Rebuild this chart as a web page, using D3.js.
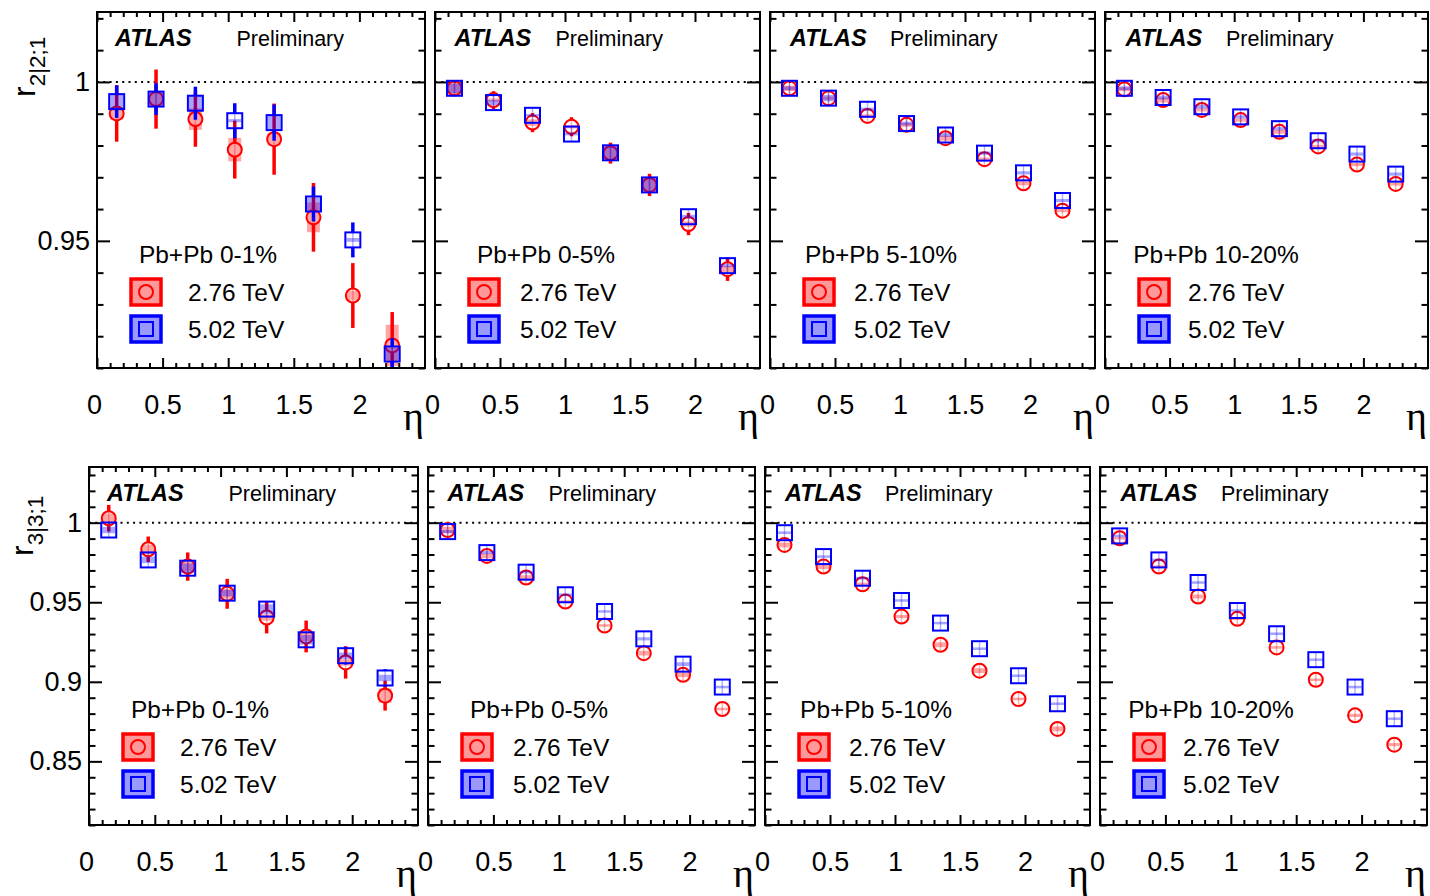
<!DOCTYPE html>
<html>
<head>
<meta charset="utf-8">
<script src="https://cdn.jsdelivr.net/npm/d3@7"></script>
<style>
  body { margin: 0; background: #fff; }
  svg { display: block; }
</style>
</head>
<body>
<svg id="chart" width="1430" height="896"></svg>
<script>
// ---- data -----------------------------------------------------------------
const etaBins = [0.15, 0.45, 0.75, 1.05, 1.35, 1.65, 1.95, 2.25];
const centralities = ["Pb+Pb 0-1%", "Pb+Pb 0-5%", "Pb+Pb 5-10%", "Pb+Pb 10-20%"];
const energies = ["2.76 TeV", "5.02 TeV"];
const xTickLabels = [0, 0.5, 1, 1.5, 2];
const r22TickLabels = [0.95, 1];
const r33TickLabels = [0.85, 0.9, 0.95, 1];

// r2|2;1, one row per centrality class
const r22_276 = [
  [0.9901, 0.9946, 0.9883, 0.9787, 0.9820, 0.9574, 0.9328, 0.9171],
  [0.9980, 0.9943, 0.9872, 0.9859, 0.9776, 0.9676, 0.9553, 0.9411],
  [0.9980, 0.9949, 0.9893, 0.9865, 0.9823, 0.9757, 0.9681, 0.9595],
  [0.9977, 0.9943, 0.9912, 0.9880, 0.9843, 0.9797, 0.9740, 0.9679]
];
const r22_276_stat = [
  [0.0089, 0.0093, 0.0087, 0.0091, 0.0112, 0.0108, 0.0102, 0.0105],
  [0.0025, 0.0028, 0.0030, 0.0030, 0.0033, 0.0035, 0.0035, 0.0037],
  [0.0018, 0.0018, 0.0019, 0.0019, 0.0020, 0.0021, 0.0021, 0.0022],
  [0.0015, 0.0015, 0.0016, 0.0016, 0.0017, 0.0017, 0.0018, 0.0019]
];
const r22_276_sys = [
  [0.0020, 0.0020, 0.0034, 0.0037, 0.0020, 0.0047, 0.0015, 0.0065],
  [0.0022, 0.0005, 0.0010, 0.0005, 0.0022, 0.0022, 0.0008, 0.0010],
  [0.0008, 0.0005, 0.0005, 0.0006, 0.0008, 0.0005, 0.0006, 0.0005],
  [0.0006, 0.0008, 0.0005, 0.0005, 0.0006, 0.0005, 0.0005, 0.0005]
];
const r22_502 = [
  [0.9938, 0.9946, 0.9933, 0.9878, 0.9872, 0.9616, 0.9503, 0.9144],
  [0.9980, 0.9935, 0.9895, 0.9836, 0.9777, 0.9676, 0.9576, 0.9422],
  [0.9980, 0.9949, 0.9914, 0.9869, 0.9833, 0.9776, 0.9714, 0.9627],
  [0.9980, 0.9951, 0.9922, 0.9890, 0.9853, 0.9815, 0.9773, 0.9710]
];
const r22_502_stat = [
  [0.0051, 0.0050, 0.0052, 0.0055, 0.0057, 0.0055, 0.0055, 0.0050],
  [0.0012, 0.0012, 0.0012, 0.0012, 0.0013, 0.0013, 0.0014, 0.0014],
  [0.0010, 0.0010, 0.0010, 0.0010, 0.0011, 0.0011, 0.0012, 0.0012],
  [0.0010, 0.0010, 0.0010, 0.0010, 0.0010, 0.0011, 0.0011, 0.0012]
];
const r22_502_sys = [
  [0.0023, 0.0023, 0.0023, 0.0005, 0.0022, 0.0020, 0.0006, 0.0020],
  [0.0015, 0.0008, 0.0004, 0.0004, 0.0020, 0.0020, 0.0006, 0.0005],
  [0.0006, 0.0010, 0.0005, 0.0006, 0.0006, 0.0005, 0.0005, 0.0005],
  [0.0006, 0.0006, 0.0006, 0.0005, 0.0005, 0.0005, 0.0005, 0.0005]
];

// r3|3;1, one row per centrality class
const r33_276 = [
  [1.0028, 0.9833, 0.9724, 0.9553, 0.9404, 0.9285, 0.9122, 0.8913],
  [0.9954, 0.9791, 0.9655, 0.9504, 0.9354, 0.9180, 0.9044, 0.8829],
  [0.9860, 0.9724, 0.9613, 0.9410, 0.9233, 0.9070, 0.8892, 0.8704],
  [0.9902, 0.9724, 0.9536, 0.9396, 0.9216, 0.9013, 0.8789, 0.8605]
];
const r33_276_stat = [
  [0.0084, 0.0080, 0.0089, 0.0094, 0.0100, 0.0100, 0.0102, 0.0094],
  [0.0035, 0.0035, 0.0035, 0.0035, 0.0036, 0.0036, 0.0038, 0.0040],
  [0.0030, 0.0030, 0.0030, 0.0031, 0.0032, 0.0033, 0.0034, 0.0035],
  [0.0025, 0.0025, 0.0026, 0.0027, 0.0028, 0.0029, 0.0030, 0.0031]
];
const r33_276_sys = [
  [0.0030, 0.0030, 0.0030, 0.0030, 0.0020, 0.0030, 0.0020, 0.0045],
  [0.0020, 0.0015, 0.0015, 0.0008, 0.0008, 0.0015, 0.0015, 0.0008],
  [0.0015, 0.0015, 0.0010, 0.0010, 0.0015, 0.0015, 0.0008, 0.0015],
  [0.0008, 0.0008, 0.0012, 0.0008, 0.0008, 0.0008, 0.0010, 0.0010]
];
const r33_502 = [
  [0.9954, 0.9766, 0.9714, 0.9557, 0.9457, 0.9264, 0.9164, 0.9024],
  [0.9944, 0.9812, 0.9689, 0.9547, 0.9442, 0.9270, 0.9111, 0.8967],
  [0.9937, 0.9787, 0.9651, 0.9511, 0.9369, 0.9208, 0.9038, 0.8862],
  [0.9917, 0.9766, 0.9624, 0.9448, 0.9302, 0.9139, 0.8967, 0.8768]
];
const r33_502_stat = [
  [0.0040, 0.0040, 0.0042, 0.0045, 0.0048, 0.0050, 0.0055, 0.0055],
  [0.0030, 0.0030, 0.0030, 0.0030, 0.0031, 0.0031, 0.0032, 0.0032],
  [0.0028, 0.0028, 0.0028, 0.0028, 0.0029, 0.0029, 0.0030, 0.0030],
  [0.0025, 0.0025, 0.0025, 0.0026, 0.0026, 0.0027, 0.0027, 0.0028]
];
const r33_502_sys = [
  [0.0020, 0.0020, 0.0030, 0.0020, 0.0030, 0.0030, 0.0020, 0.0020],
  [0.0010, 0.0010, 0.0008, 0.0008, 0.0008, 0.0010, 0.0012, 0.0008],
  [0.0008, 0.0008, 0.0008, 0.0008, 0.0008, 0.0008, 0.0008, 0.0008],
  [0.0008, 0.0008, 0.0008, 0.0008, 0.0008, 0.0008, 0.0008, 0.0008]
];

// ---- style ----------------------------------------------------------------
const SANS = '"Liberation Sans", Arial, Helvetica, sans-serif';
const SERIF = '"Liberation Serif", "Times New Roman", serif';
const RED = "#ff0000", BLUE = "#0000ff";
const RED_FILL = "rgba(255,0,0,0.40)", BLUE_FILL = "rgba(0,0,255,0.40)";
const RED_SYS = "rgba(255,0,0,0.35)", BLUE_SYS = "rgba(0,0,255,0.35)";
const RED_LIGHT = "rgba(255,0,0,0.30)", BLUE_LIGHT = "rgba(0,0,255,0.30)";

const rows = [
  {
    top: 12, bottom: 368,
    lefts: [97, 435, 770, 1105], rights: [425, 760, 1095, 1428],
    yDomain: [0.91, 1.022], yLabels: r22TickLabels,
    title: ["r", "2|2;1"], titleAt: [35, 97],
    low: { v: r22_276, stat: r22_276_stat, sys: r22_276_sys },
    high: { v: r22_502, stat: r22_502_stat, sys: r22_502_sys }
  },
  {
    top: 467, bottom: 825,
    lefts: [89, 428, 765, 1100], rights: [418, 755, 1090, 1427],
    yDomain: [0.81, 1.035], yLabels: r33TickLabels,
    title: ["r", "3|3;1"], titleAt: [33, 556],
    low: { v: r33_276, stat: r33_276_stat, sys: r33_276_sys },
    high: { v: r33_502, stat: r33_502_stat, sys: r33_502_sys }
  }
];

// per-column text offsets from the frame's left edge
const atlasDx = [18, 19.5, 20, 20.5];
const prelimDx = [139.5, 120.5, 120, 121];
const legendTextDx = [91, 85, 84, 83];

const svg = d3.select("#chart");
const fmt = d => String(+d.toFixed(2));

function minorTicks(lo, hi, step, majorStep) {
  const out = [];
  const n0 = Math.ceil(lo / step - 1e-9), n1 = Math.floor(hi / step + 1e-9);
  for (let n = n0; n <= n1; n++) {
    const v = +(n * step).toFixed(4);
    if (Math.abs(v / majorStep - Math.round(v / majorStep)) > 1e-6) out.push(v);
  }
  return out;
}

function styleAxis(g, withLabels) {
  g.select(".domain").remove();
  g.selectAll(".tick line").attr("stroke", "#000").attr("stroke-width", 2);
  g.attr("font-family", SANS).attr("font-size", 27);
  g.selectAll(".tick text").attr("fill", "#000");
  if (!withLabels) g.selectAll(".tick text").remove();
}

function drawSeries(g, x, y, s, c, kind) {
  const isCircle = kind === "circle";
  const col = isCircle ? RED : BLUE;
  const sysFill = isCircle ? RED_SYS : BLUE_SYS;
  const light = isCircle ? RED_LIGHT : BLUE_LIGHT;
  const half = isCircle ? 7 : 7.5;
  const pts = etaBins.map((eta, i) => {
    const v = s.v[c][i];
    return {
      cx: x(eta), cy: y(v),
      hi: y(v + s.stat[c][i]), lo: y(v - s.stat[c][i]),
      sHi: y(v + s.sys[c][i]), sLo: y(v - s.sys[c][i])
    };
  });

  // systematic boxes
  g.append("g").selectAll("rect").data(pts).join("rect")
    .attr("x", d => d.cx - 6.5).attr("width", 13)
    .attr("y", d => (d.sLo - d.sHi) < 2.5 ? d.cy - 1.25 : d.sHi)
    .attr("height", d => Math.max(d.sLo - d.sHi, 2.5))
    .attr("fill", sysFill);

  // error bar inside the marker
  g.append("g").selectAll("line").data(pts).join("line")
    .attr("x1", d => d.cx).attr("x2", d => d.cx)
    .attr("y1", d => d.cy - half).attr("y2", d => d.cy + half)
    .attr("stroke", light).attr("stroke-width", 1.5);

  // statistical error bars outside the marker
  const bars = [];
  pts.forEach(d => {
    if (d.hi < d.cy - half) bars.push({ x: d.cx, y1: d.hi, y2: d.cy - half });
    if (d.lo > d.cy + half) bars.push({ x: d.cx, y1: d.cy + half, y2: d.lo });
  });
  g.append("g").selectAll("line").data(bars).join("line")
    .attr("x1", d => d.x).attr("x2", d => d.x)
    .attr("y1", d => d.y1).attr("y2", d => d.y2)
    .attr("stroke", col).attr("stroke-width", 3.5);

  // markers
  const m = g.append("g");
  if (isCircle) {
    m.selectAll("circle").data(pts).join("circle")
      .attr("cx", d => d.cx).attr("cy", d => d.cy).attr("r", 7)
      .attr("fill", "none").attr("stroke", col).attr("stroke-width", 2);
  } else {
    m.selectAll("rect").data(pts).join("rect")
      .attr("x", d => d.cx - 7.5).attr("y", d => d.cy - 7.5)
      .attr("width", 15).attr("height", 15)
      .attr("fill", "none").attr("stroke", col).attr("stroke-width", 2);
  }
}

rows.forEach((row, ri) => {
  const T = row.top, B = row.bottom;

  // y-axis title
  const t = svg.append("text")
    .attr("transform", `translate(${row.titleAt[0]},${row.titleAt[1]}) rotate(-90)`)
    .attr("font-family", SANS).attr("font-size", 32).attr("fill", "#000");
  t.append("tspan").text(row.title[0]);
  t.append("tspan").attr("font-size", 22.5).attr("dy", 10).text(row.title[1]);

  row.lefts.forEach((L, c) => {
    const R = row.rights[c];
    const x = d3.scaleLinear().domain([0, 2.5]).range([L, R]);
    const y = d3.scaleLinear().domain(row.yDomain).range([B, T]);
    const panel = svg.append("g");

    const clipId = `clip-${ri}-${c}`;
    panel.append("clipPath").attr("id", clipId)
      .append("rect").attr("x", L).attr("y", T).attr("width", R - L).attr("height", B - T);

    // axes with inward ticks on all four sides
    const xMinor = minorTicks(0, 2.5, 0.1, 0.5);
    const yMinor = minorTicks(row.yDomain[0], row.yDomain[1], 0.01, 0.05);
    const yMajor = minorTicks(row.yDomain[0], row.yDomain[1], 0.05, 1).concat([1]).filter(v => v >= row.yDomain[0]);

    panel.append("g").attr("transform", `translate(0,${B})`)
      .call(d3.axisBottom(x).tickValues(xTickLabels).tickSize(-10).tickPadding(27).tickFormat(fmt))
      .call(g => styleAxis(g, true))
      .call(g => g.selectAll(".tick text").filter(d => d === 0).attr("dx", -3));
    panel.append("g").attr("transform", `translate(0,${B})`)
      .call(d3.axisBottom(x).tickValues(xMinor).tickSize(-5).tickFormat(""))
      .call(g => styleAxis(g, false));
    panel.append("g").attr("transform", `translate(0,${T})`)
      .call(d3.axisTop(x).tickValues(xTickLabels).tickSize(-10).tickFormat(""))
      .call(g => styleAxis(g, false));
    panel.append("g").attr("transform", `translate(0,${T})`)
      .call(d3.axisTop(x).tickValues(xMinor).tickSize(-5).tickFormat(""))
      .call(g => styleAxis(g, false));

    panel.append("g").attr("transform", `translate(${L},0)`)
      .call(d3.axisLeft(y).tickValues(c === 0 ? row.yLabels : yMajor).tickSize(-13).tickPadding(7).tickFormat(fmt))
      .call(g => styleAxis(g, c === 0));
    panel.append("g").attr("transform", `translate(${L},0)`)
      .call(d3.axisLeft(y).tickValues(yMinor).tickSize(-6.5).tickFormat(""))
      .call(g => styleAxis(g, false));
    panel.append("g").attr("transform", `translate(${R},0)`)
      .call(d3.axisRight(y).tickValues(yMajor).tickSize(-13).tickFormat(""))
      .call(g => styleAxis(g, false));
    panel.append("g").attr("transform", `translate(${R},0)`)
      .call(d3.axisRight(y).tickValues(yMinor).tickSize(-6.5).tickFormat(""))
      .call(g => styleAxis(g, false));

    // reference line at unity
    panel.append("line")
      .attr("x1", L).attr("x2", R).attr("y1", y(1)).attr("y2", y(1))
      .attr("stroke", "#000").attr("stroke-width", 2).attr("stroke-dasharray", "2,4.3");

    // data
    const data = panel.append("g").attr("clip-path", `url(#${clipId})`);
    drawSeries(data, x, y, row.low, c, "circle");
    drawSeries(data, x, y, row.high, c, "square");

    // frame
    panel.append("rect")
      .attr("x", L).attr("y", T).attr("width", R - L).attr("height", B - T)
      .attr("fill", "none").attr("stroke", "#000").attr("stroke-width", 2);

    // labels
    panel.append("text").attr("x", L + atlasDx[c]).attr("y", T + 34)
      .attr("font-family", SANS).attr("font-size", 23.5)
      .attr("font-weight", "bold").attr("font-style", "italic").text("ATLAS");
    panel.append("text").attr("x", L + prelimDx[c]).attr("y", T + 34)
      .attr("font-family", SANS).attr("font-size", 21.5).text("Preliminary");

    panel.append("text").attr("x", R - 1).attr("y", B + 62)
      .attr("text-anchor", "end").attr("font-family", SERIF).attr("font-size", 40).text("η");

    // legend
    panel.append("text").attr("x", L + 111).attr("y", T + 251)
      .attr("text-anchor", "middle").attr("font-family", SANS).attr("font-size", 24.5)
      .text(centralities[c]);
    const entries = [
      { cy: T + 280, stroke: RED, fill: RED_FILL, kind: "circle", label: energies[0] },
      { cy: T + 317, stroke: BLUE, fill: BLUE_FILL, kind: "square", label: energies[1] }
    ];
    entries.forEach(e => {
      const bx = L + 34;
      panel.append("rect").attr("x", bx).attr("y", e.cy - 13).attr("width", 30).attr("height", 26)
        .attr("fill", e.fill).attr("stroke", e.stroke).attr("stroke-width", 3.5);
      if (e.kind === "circle") {
        panel.append("circle").attr("cx", bx + 15).attr("cy", e.cy).attr("r", 7)
          .attr("fill", "none").attr("stroke", e.stroke).attr("stroke-width", 2);
      } else {
        panel.append("rect").attr("x", bx + 8).attr("y", e.cy - 7).attr("width", 14).attr("height", 14)
          .attr("fill", "none").attr("stroke", e.stroke).attr("stroke-width", 2);
      }
      panel.append("text").attr("x", L + legendTextDx[c]).attr("y", e.cy + 8.5)
        .attr("font-family", SANS).attr("font-size", 24.5).text(e.label);
    });
  });
});
</script>
</body>
</html>
